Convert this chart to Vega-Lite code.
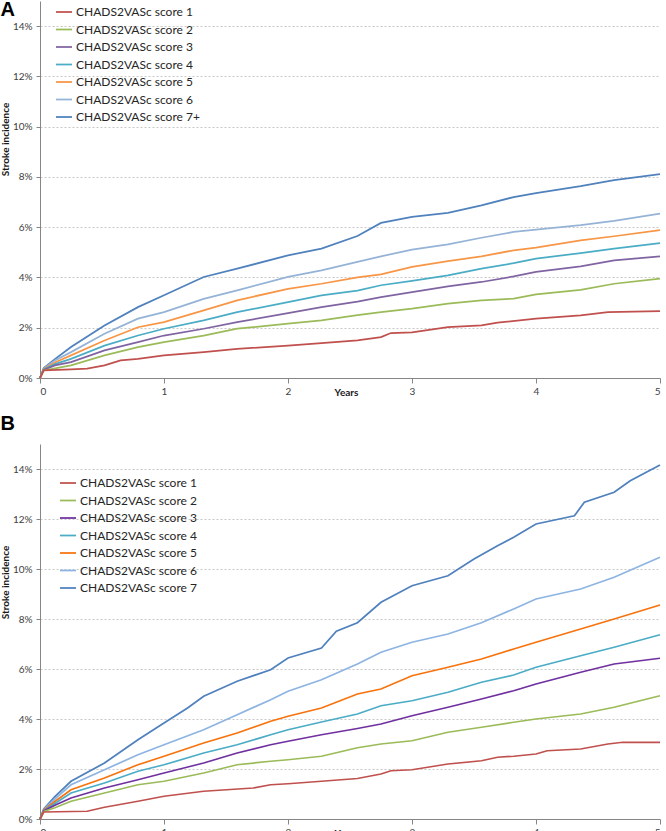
{
"$schema": "https://vega.github.io/schema/vega-lite/v6.json",
"background": "white",
"padding": {"left": 0, "top": 0, "right": 4, "bottom": 0},
"config": {
 "font": "Lato",
 "view": {"stroke": null},
 "axis": {"domainColor": "#868686", "tickColor": "#868686", "labelColor": "#404040", "labelFontSize": 10, "titleFontSize": 10, "titleFontWeight": "bold", "titleColor": "#1a1a1a", "gridColor": "#c8c8c8", "gridDash": [2, 2]},
 "legend": {"padding": 0, "labelFontSize": 12, "labelColor": "#262626", "symbolType": "stroke", "symbolSize": 256, "symbolStrokeWidth": 2, "rowPadding": 2.5, "labelOffset": 3},
 "line": {"strokeWidth": 1.75}
},
"data": {"values": [
{"p":"A","s":"CHADS2VASc score 7+","t":0,"v":0},{"p":"A","s":"CHADS2VASc score 7+","t":0.03,"v":0.4},{"p":"A","s":"CHADS2VASc score 7+","t":0.12,"v":0.75},{"p":"A","s":"CHADS2VASc score 7+","t":0.25,"v":1.23},{"p":"A","s":"CHADS2VASc score 7+","t":0.52,"v":2.09},{"p":"A","s":"CHADS2VASc score 7+","t":0.79,"v":2.82},{"p":"A","s":"CHADS2VASc score 7+","t":1.0,"v":3.29},{"p":"A","s":"CHADS2VASc score 7+","t":1.32,"v":4.02},{"p":"A","s":"CHADS2VASc score 7+","t":1.59,"v":4.35},{"p":"A","s":"CHADS2VASc score 7+","t":2.0,"v":4.88},{"p":"A","s":"CHADS2VASc score 7+","t":2.27,"v":5.15},{"p":"A","s":"CHADS2VASc score 7+","t":2.56,"v":5.65},{"p":"A","s":"CHADS2VASc score 7+","t":2.75,"v":6.17},{"p":"A","s":"CHADS2VASc score 7+","t":3.0,"v":6.41},{"p":"A","s":"CHADS2VASc score 7+","t":3.29,"v":6.57},{"p":"A","s":"CHADS2VASc score 7+","t":3.56,"v":6.87},{"p":"A","s":"CHADS2VASc score 7+","t":3.82,"v":7.2},{"p":"A","s":"CHADS2VASc score 7+","t":4.0,"v":7.36},{"p":"A","s":"CHADS2VASc score 7+","t":4.36,"v":7.63},{"p":"A","s":"CHADS2VASc score 7+","t":4.63,"v":7.87},{"p":"A","s":"CHADS2VASc score 7+","t":5.0,"v":8.11},
{"p":"A","s":"CHADS2VASc score 6","t":0,"v":0},{"p":"A","s":"CHADS2VASc score 6","t":0.03,"v":0.38},{"p":"A","s":"CHADS2VASc score 6","t":0.12,"v":0.7},{"p":"A","s":"CHADS2VASc score 6","t":0.25,"v":1.03},{"p":"A","s":"CHADS2VASc score 6","t":0.52,"v":1.76},{"p":"A","s":"CHADS2VASc score 6","t":0.79,"v":2.36},{"p":"A","s":"CHADS2VASc score 6","t":1.0,"v":2.62},{"p":"A","s":"CHADS2VASc score 6","t":1.32,"v":3.15},{"p":"A","s":"CHADS2VASc score 6","t":1.59,"v":3.49},{"p":"A","s":"CHADS2VASc score 6","t":2.0,"v":4.02},{"p":"A","s":"CHADS2VASc score 6","t":2.27,"v":4.28},{"p":"A","s":"CHADS2VASc score 6","t":2.56,"v":4.62},{"p":"A","s":"CHADS2VASc score 6","t":2.75,"v":4.84},{"p":"A","s":"CHADS2VASc score 6","t":3.0,"v":5.11},{"p":"A","s":"CHADS2VASc score 6","t":3.29,"v":5.32},{"p":"A","s":"CHADS2VASc score 6","t":3.56,"v":5.58},{"p":"A","s":"CHADS2VASc score 6","t":3.82,"v":5.81},{"p":"A","s":"CHADS2VASc score 6","t":4.0,"v":5.9},{"p":"A","s":"CHADS2VASc score 6","t":4.36,"v":6.08},{"p":"A","s":"CHADS2VASc score 6","t":4.63,"v":6.25},{"p":"A","s":"CHADS2VASc score 6","t":5.0,"v":6.54},
{"p":"A","s":"CHADS2VASc score 5","t":0,"v":0},{"p":"A","s":"CHADS2VASc score 5","t":0.03,"v":0.36},{"p":"A","s":"CHADS2VASc score 5","t":0.12,"v":0.62},{"p":"A","s":"CHADS2VASc score 5","t":0.25,"v":0.9},{"p":"A","s":"CHADS2VASc score 5","t":0.52,"v":1.49},{"p":"A","s":"CHADS2VASc score 5","t":0.79,"v":2.02},{"p":"A","s":"CHADS2VASc score 5","t":1.0,"v":2.22},{"p":"A","s":"CHADS2VASc score 5","t":1.32,"v":2.69},{"p":"A","s":"CHADS2VASc score 5","t":1.59,"v":3.09},{"p":"A","s":"CHADS2VASc score 5","t":2.0,"v":3.55},{"p":"A","s":"CHADS2VASc score 5","t":2.27,"v":3.75},{"p":"A","s":"CHADS2VASc score 5","t":2.56,"v":4.0},{"p":"A","s":"CHADS2VASc score 5","t":2.75,"v":4.12},{"p":"A","s":"CHADS2VASc score 5","t":3.0,"v":4.42},{"p":"A","s":"CHADS2VASc score 5","t":3.29,"v":4.65},{"p":"A","s":"CHADS2VASc score 5","t":3.56,"v":4.84},{"p":"A","s":"CHADS2VASc score 5","t":3.82,"v":5.08},{"p":"A","s":"CHADS2VASc score 5","t":4.0,"v":5.19},{"p":"A","s":"CHADS2VASc score 5","t":4.36,"v":5.48},{"p":"A","s":"CHADS2VASc score 5","t":4.63,"v":5.64},{"p":"A","s":"CHADS2VASc score 5","t":5.0,"v":5.88},
{"p":"A","s":"CHADS2VASc score 4","t":0,"v":0},{"p":"A","s":"CHADS2VASc score 4","t":0.03,"v":0.34},{"p":"A","s":"CHADS2VASc score 4","t":0.12,"v":0.55},{"p":"A","s":"CHADS2VASc score 4","t":0.25,"v":0.76},{"p":"A","s":"CHADS2VASc score 4","t":0.52,"v":1.29},{"p":"A","s":"CHADS2VASc score 4","t":0.79,"v":1.69},{"p":"A","s":"CHADS2VASc score 4","t":1.0,"v":1.96},{"p":"A","s":"CHADS2VASc score 4","t":1.32,"v":2.29},{"p":"A","s":"CHADS2VASc score 4","t":1.59,"v":2.62},{"p":"A","s":"CHADS2VASc score 4","t":2.0,"v":3.02},{"p":"A","s":"CHADS2VASc score 4","t":2.27,"v":3.29},{"p":"A","s":"CHADS2VASc score 4","t":2.56,"v":3.48},{"p":"A","s":"CHADS2VASc score 4","t":2.75,"v":3.69},{"p":"A","s":"CHADS2VASc score 4","t":3.0,"v":3.86},{"p":"A","s":"CHADS2VASc score 4","t":3.29,"v":4.08},{"p":"A","s":"CHADS2VASc score 4","t":3.56,"v":4.35},{"p":"A","s":"CHADS2VASc score 4","t":3.82,"v":4.57},{"p":"A","s":"CHADS2VASc score 4","t":4.0,"v":4.75},{"p":"A","s":"CHADS2VASc score 4","t":4.36,"v":4.97},{"p":"A","s":"CHADS2VASc score 4","t":4.63,"v":5.15},{"p":"A","s":"CHADS2VASc score 4","t":5.0,"v":5.37},
{"p":"A","s":"CHADS2VASc score 3","t":0,"v":0},{"p":"A","s":"CHADS2VASc score 3","t":0.03,"v":0.32},{"p":"A","s":"CHADS2VASc score 3","t":0.12,"v":0.5},{"p":"A","s":"CHADS2VASc score 3","t":0.25,"v":0.63},{"p":"A","s":"CHADS2VASc score 3","t":0.52,"v":1.1},{"p":"A","s":"CHADS2VASc score 3","t":0.79,"v":1.43},{"p":"A","s":"CHADS2VASc score 3","t":1.0,"v":1.69},{"p":"A","s":"CHADS2VASc score 3","t":1.32,"v":1.96},{"p":"A","s":"CHADS2VASc score 3","t":1.59,"v":2.22},{"p":"A","s":"CHADS2VASc score 3","t":2.0,"v":2.58},{"p":"A","s":"CHADS2VASc score 3","t":2.27,"v":2.82},{"p":"A","s":"CHADS2VASc score 3","t":2.56,"v":3.04},{"p":"A","s":"CHADS2VASc score 3","t":2.75,"v":3.22},{"p":"A","s":"CHADS2VASc score 3","t":3.0,"v":3.42},{"p":"A","s":"CHADS2VASc score 3","t":3.29,"v":3.65},{"p":"A","s":"CHADS2VASc score 3","t":3.56,"v":3.82},{"p":"A","s":"CHADS2VASc score 3","t":3.82,"v":4.04},{"p":"A","s":"CHADS2VASc score 3","t":4.0,"v":4.22},{"p":"A","s":"CHADS2VASc score 3","t":4.36,"v":4.44},{"p":"A","s":"CHADS2VASc score 3","t":4.63,"v":4.68},{"p":"A","s":"CHADS2VASc score 3","t":5.0,"v":4.84},
{"p":"A","s":"CHADS2VASc score 2","t":0,"v":0},{"p":"A","s":"CHADS2VASc score 2","t":0.03,"v":0.3},{"p":"A","s":"CHADS2VASc score 2","t":0.12,"v":0.38},{"p":"A","s":"CHADS2VASc score 2","t":0.25,"v":0.5},{"p":"A","s":"CHADS2VASc score 2","t":0.52,"v":0.9},{"p":"A","s":"CHADS2VASc score 2","t":0.79,"v":1.23},{"p":"A","s":"CHADS2VASc score 2","t":1.0,"v":1.43},{"p":"A","s":"CHADS2VASc score 2","t":1.32,"v":1.69},{"p":"A","s":"CHADS2VASc score 2","t":1.59,"v":1.96},{"p":"A","s":"CHADS2VASc score 2","t":2.0,"v":2.16},{"p":"A","s":"CHADS2VASc score 2","t":2.27,"v":2.29},{"p":"A","s":"CHADS2VASc score 2","t":2.56,"v":2.5},{"p":"A","s":"CHADS2VASc score 2","t":2.75,"v":2.62},{"p":"A","s":"CHADS2VASc score 2","t":3.0,"v":2.76},{"p":"A","s":"CHADS2VASc score 2","t":3.29,"v":2.96},{"p":"A","s":"CHADS2VASc score 2","t":3.56,"v":3.09},{"p":"A","s":"CHADS2VASc score 2","t":3.82,"v":3.16},{"p":"A","s":"CHADS2VASc score 2","t":4.0,"v":3.33},{"p":"A","s":"CHADS2VASc score 2","t":4.36,"v":3.51},{"p":"A","s":"CHADS2VASc score 2","t":4.63,"v":3.75},{"p":"A","s":"CHADS2VASc score 2","t":5.0,"v":3.95},
{"p":"A","s":"CHADS2VASc score 1","t":0,"v":0},{"p":"A","s":"CHADS2VASc score 1","t":0.03,"v":0.3},{"p":"A","s":"CHADS2VASc score 1","t":0.25,"v":0.34},{"p":"A","s":"CHADS2VASc score 1","t":0.38,"v":0.37},{"p":"A","s":"CHADS2VASc score 1","t":0.52,"v":0.5},{"p":"A","s":"CHADS2VASc score 1","t":0.65,"v":0.7},{"p":"A","s":"CHADS2VASc score 1","t":0.79,"v":0.76},{"p":"A","s":"CHADS2VASc score 1","t":1.0,"v":0.9},{"p":"A","s":"CHADS2VASc score 1","t":1.32,"v":1.03},{"p":"A","s":"CHADS2VASc score 1","t":1.59,"v":1.16},{"p":"A","s":"CHADS2VASc score 1","t":2.0,"v":1.29},{"p":"A","s":"CHADS2VASc score 1","t":2.27,"v":1.39},{"p":"A","s":"CHADS2VASc score 1","t":2.56,"v":1.5},{"p":"A","s":"CHADS2VASc score 1","t":2.75,"v":1.63},{"p":"A","s":"CHADS2VASc score 1","t":2.83,"v":1.79},{"p":"A","s":"CHADS2VASc score 1","t":3.0,"v":1.82},{"p":"A","s":"CHADS2VASc score 1","t":3.29,"v":2.02},{"p":"A","s":"CHADS2VASc score 1","t":3.56,"v":2.09},{"p":"A","s":"CHADS2VASc score 1","t":3.69,"v":2.2},{"p":"A","s":"CHADS2VASc score 1","t":4.0,"v":2.36},{"p":"A","s":"CHADS2VASc score 1","t":4.36,"v":2.49},{"p":"A","s":"CHADS2VASc score 1","t":4.58,"v":2.62},{"p":"A","s":"CHADS2VASc score 1","t":5.0,"v":2.66},
{"p":"B","s":"CHADS2VASc score 7","t":0,"v":0},{"p":"B","s":"CHADS2VASc score 7","t":0.03,"v":0.4},{"p":"B","s":"CHADS2VASc score 7","t":0.12,"v":0.9},{"p":"B","s":"CHADS2VASc score 7","t":0.25,"v":1.51},{"p":"B","s":"CHADS2VASc score 7","t":0.52,"v":2.24},{"p":"B","s":"CHADS2VASc score 7","t":0.79,"v":3.17},{"p":"B","s":"CHADS2VASc score 7","t":1.0,"v":3.84},{"p":"B","s":"CHADS2VASc score 7","t":1.19,"v":4.44},{"p":"B","s":"CHADS2VASc score 7","t":1.32,"v":4.91},{"p":"B","s":"CHADS2VASc score 7","t":1.59,"v":5.51},{"p":"B","s":"CHADS2VASc score 7","t":1.86,"v":5.97},{"p":"B","s":"CHADS2VASc score 7","t":2.0,"v":6.44},{"p":"B","s":"CHADS2VASc score 7","t":2.27,"v":6.84},{"p":"B","s":"CHADS2VASc score 7","t":2.39,"v":7.51},{"p":"B","s":"CHADS2VASc score 7","t":2.56,"v":7.85},{"p":"B","s":"CHADS2VASc score 7","t":2.75,"v":8.67},{"p":"B","s":"CHADS2VASc score 7","t":3.0,"v":9.33},{"p":"B","s":"CHADS2VASc score 7","t":3.29,"v":9.73},{"p":"B","s":"CHADS2VASc score 7","t":3.5,"v":10.4},{"p":"B","s":"CHADS2VASc score 7","t":3.69,"v":10.93},{"p":"B","s":"CHADS2VASc score 7","t":3.82,"v":11.27},{"p":"B","s":"CHADS2VASc score 7","t":4.0,"v":11.8},{"p":"B","s":"CHADS2VASc score 7","t":4.31,"v":12.13},{"p":"B","s":"CHADS2VASc score 7","t":4.39,"v":12.67},{"p":"B","s":"CHADS2VASc score 7","t":4.63,"v":13.07},{"p":"B","s":"CHADS2VASc score 7","t":4.76,"v":13.53},{"p":"B","s":"CHADS2VASc score 7","t":5.0,"v":14.16},
{"p":"B","s":"CHADS2VASc score 6","t":0,"v":0},{"p":"B","s":"CHADS2VASc score 6","t":0.03,"v":0.38},{"p":"B","s":"CHADS2VASc score 6","t":0.12,"v":0.8},{"p":"B","s":"CHADS2VASc score 6","t":0.25,"v":1.37},{"p":"B","s":"CHADS2VASc score 6","t":0.52,"v":1.97},{"p":"B","s":"CHADS2VASc score 6","t":0.79,"v":2.57},{"p":"B","s":"CHADS2VASc score 6","t":1.0,"v":2.97},{"p":"B","s":"CHADS2VASc score 6","t":1.32,"v":3.57},{"p":"B","s":"CHADS2VASc score 6","t":1.59,"v":4.17},{"p":"B","s":"CHADS2VASc score 6","t":1.86,"v":4.77},{"p":"B","s":"CHADS2VASc score 6","t":2.0,"v":5.11},{"p":"B","s":"CHADS2VASc score 6","t":2.27,"v":5.57},{"p":"B","s":"CHADS2VASc score 6","t":2.56,"v":6.2},{"p":"B","s":"CHADS2VASc score 6","t":2.75,"v":6.67},{"p":"B","s":"CHADS2VASc score 6","t":3.0,"v":7.07},{"p":"B","s":"CHADS2VASc score 6","t":3.29,"v":7.4},{"p":"B","s":"CHADS2VASc score 6","t":3.56,"v":7.85},{"p":"B","s":"CHADS2VASc score 6","t":3.82,"v":8.4},{"p":"B","s":"CHADS2VASc score 6","t":4.0,"v":8.8},{"p":"B","s":"CHADS2VASc score 6","t":4.36,"v":9.2},{"p":"B","s":"CHADS2VASc score 6","t":4.63,"v":9.67},{"p":"B","s":"CHADS2VASc score 6","t":5.0,"v":10.47},
{"p":"B","s":"CHADS2VASc score 5","t":0,"v":0},{"p":"B","s":"CHADS2VASc score 5","t":0.03,"v":0.36},{"p":"B","s":"CHADS2VASc score 5","t":0.12,"v":0.7},{"p":"B","s":"CHADS2VASc score 5","t":0.25,"v":1.17},{"p":"B","s":"CHADS2VASc score 5","t":0.52,"v":1.64},{"p":"B","s":"CHADS2VASc score 5","t":0.79,"v":2.17},{"p":"B","s":"CHADS2VASc score 5","t":1.0,"v":2.51},{"p":"B","s":"CHADS2VASc score 5","t":1.32,"v":3.04},{"p":"B","s":"CHADS2VASc score 5","t":1.59,"v":3.44},{"p":"B","s":"CHADS2VASc score 5","t":1.86,"v":3.91},{"p":"B","s":"CHADS2VASc score 5","t":2.0,"v":4.11},{"p":"B","s":"CHADS2VASc score 5","t":2.27,"v":4.44},{"p":"B","s":"CHADS2VASc score 5","t":2.56,"v":5.0},{"p":"B","s":"CHADS2VASc score 5","t":2.75,"v":5.2},{"p":"B","s":"CHADS2VASc score 5","t":3.0,"v":5.73},{"p":"B","s":"CHADS2VASc score 5","t":3.29,"v":6.07},{"p":"B","s":"CHADS2VASc score 5","t":3.56,"v":6.4},{"p":"B","s":"CHADS2VASc score 5","t":3.82,"v":6.8},{"p":"B","s":"CHADS2VASc score 5","t":4.0,"v":7.07},{"p":"B","s":"CHADS2VASc score 5","t":4.36,"v":7.6},{"p":"B","s":"CHADS2VASc score 5","t":4.63,"v":8.0},{"p":"B","s":"CHADS2VASc score 5","t":5.0,"v":8.56},
{"p":"B","s":"CHADS2VASc score 4","t":0,"v":0},{"p":"B","s":"CHADS2VASc score 4","t":0.03,"v":0.34},{"p":"B","s":"CHADS2VASc score 4","t":0.12,"v":0.62},{"p":"B","s":"CHADS2VASc score 4","t":0.25,"v":1.04},{"p":"B","s":"CHADS2VASc score 4","t":0.52,"v":1.44},{"p":"B","s":"CHADS2VASc score 4","t":0.79,"v":1.91},{"p":"B","s":"CHADS2VASc score 4","t":1.0,"v":2.17},{"p":"B","s":"CHADS2VASc score 4","t":1.32,"v":2.64},{"p":"B","s":"CHADS2VASc score 4","t":1.59,"v":2.97},{"p":"B","s":"CHADS2VASc score 4","t":1.86,"v":3.37},{"p":"B","s":"CHADS2VASc score 4","t":2.0,"v":3.57},{"p":"B","s":"CHADS2VASc score 4","t":2.27,"v":3.88},{"p":"B","s":"CHADS2VASc score 4","t":2.56,"v":4.2},{"p":"B","s":"CHADS2VASc score 4","t":2.75,"v":4.53},{"p":"B","s":"CHADS2VASc score 4","t":3.0,"v":4.73},{"p":"B","s":"CHADS2VASc score 4","t":3.29,"v":5.07},{"p":"B","s":"CHADS2VASc score 4","t":3.56,"v":5.47},{"p":"B","s":"CHADS2VASc score 4","t":3.82,"v":5.76},{"p":"B","s":"CHADS2VASc score 4","t":4.0,"v":6.07},{"p":"B","s":"CHADS2VASc score 4","t":4.36,"v":6.53},{"p":"B","s":"CHADS2VASc score 4","t":4.63,"v":6.87},{"p":"B","s":"CHADS2VASc score 4","t":5.0,"v":7.37},
{"p":"B","s":"CHADS2VASc score 3","t":0,"v":0},{"p":"B","s":"CHADS2VASc score 3","t":0.03,"v":0.32},{"p":"B","s":"CHADS2VASc score 3","t":0.12,"v":0.55},{"p":"B","s":"CHADS2VASc score 3","t":0.25,"v":0.84},{"p":"B","s":"CHADS2VASc score 3","t":0.52,"v":1.24},{"p":"B","s":"CHADS2VASc score 3","t":0.79,"v":1.57},{"p":"B","s":"CHADS2VASc score 3","t":1.0,"v":1.84},{"p":"B","s":"CHADS2VASc score 3","t":1.32,"v":2.24},{"p":"B","s":"CHADS2VASc score 3","t":1.59,"v":2.64},{"p":"B","s":"CHADS2VASc score 3","t":1.86,"v":2.97},{"p":"B","s":"CHADS2VASc score 3","t":2.0,"v":3.11},{"p":"B","s":"CHADS2VASc score 3","t":2.27,"v":3.37},{"p":"B","s":"CHADS2VASc score 3","t":2.56,"v":3.62},{"p":"B","s":"CHADS2VASc score 3","t":2.75,"v":3.8},{"p":"B","s":"CHADS2VASc score 3","t":3.0,"v":4.13},{"p":"B","s":"CHADS2VASc score 3","t":3.29,"v":4.47},{"p":"B","s":"CHADS2VASc score 3","t":3.56,"v":4.8},{"p":"B","s":"CHADS2VASc score 3","t":3.82,"v":5.13},{"p":"B","s":"CHADS2VASc score 3","t":4.0,"v":5.4},{"p":"B","s":"CHADS2VASc score 3","t":4.36,"v":5.87},{"p":"B","s":"CHADS2VASc score 3","t":4.63,"v":6.2},{"p":"B","s":"CHADS2VASc score 3","t":5.0,"v":6.43},
{"p":"B","s":"CHADS2VASc score 2","t":0,"v":0},{"p":"B","s":"CHADS2VASc score 2","t":0.03,"v":0.3},{"p":"B","s":"CHADS2VASc score 2","t":0.12,"v":0.45},{"p":"B","s":"CHADS2VASc score 2","t":0.25,"v":0.71},{"p":"B","s":"CHADS2VASc score 2","t":0.52,"v":1.04},{"p":"B","s":"CHADS2VASc score 2","t":0.79,"v":1.37},{"p":"B","s":"CHADS2VASc score 2","t":1.0,"v":1.51},{"p":"B","s":"CHADS2VASc score 2","t":1.32,"v":1.84},{"p":"B","s":"CHADS2VASc score 2","t":1.59,"v":2.17},{"p":"B","s":"CHADS2VASc score 2","t":1.86,"v":2.31},{"p":"B","s":"CHADS2VASc score 2","t":2.0,"v":2.37},{"p":"B","s":"CHADS2VASc score 2","t":2.27,"v":2.51},{"p":"B","s":"CHADS2VASc score 2","t":2.56,"v":2.85},{"p":"B","s":"CHADS2VASc score 2","t":2.75,"v":3.0},{"p":"B","s":"CHADS2VASc score 2","t":3.0,"v":3.13},{"p":"B","s":"CHADS2VASc score 2","t":3.29,"v":3.47},{"p":"B","s":"CHADS2VASc score 2","t":3.56,"v":3.67},{"p":"B","s":"CHADS2VASc score 2","t":3.82,"v":3.87},{"p":"B","s":"CHADS2VASc score 2","t":4.0,"v":4.0},{"p":"B","s":"CHADS2VASc score 2","t":4.36,"v":4.2},{"p":"B","s":"CHADS2VASc score 2","t":4.63,"v":4.47},{"p":"B","s":"CHADS2VASc score 2","t":5.0,"v":4.93},
{"p":"B","s":"CHADS2VASc score 1","t":0,"v":0},{"p":"B","s":"CHADS2VASc score 1","t":0.03,"v":0.28},{"p":"B","s":"CHADS2VASc score 1","t":0.38,"v":0.31},{"p":"B","s":"CHADS2VASc score 1","t":0.52,"v":0.47},{"p":"B","s":"CHADS2VASc score 1","t":0.79,"v":0.71},{"p":"B","s":"CHADS2VASc score 1","t":1.0,"v":0.91},{"p":"B","s":"CHADS2VASc score 1","t":1.32,"v":1.11},{"p":"B","s":"CHADS2VASc score 1","t":1.72,"v":1.24},{"p":"B","s":"CHADS2VASc score 1","t":1.86,"v":1.37},{"p":"B","s":"CHADS2VASc score 1","t":2.0,"v":1.41},{"p":"B","s":"CHADS2VASc score 1","t":2.27,"v":1.51},{"p":"B","s":"CHADS2VASc score 1","t":2.56,"v":1.62},{"p":"B","s":"CHADS2VASc score 1","t":2.75,"v":1.8},{"p":"B","s":"CHADS2VASc score 1","t":2.83,"v":1.93},{"p":"B","s":"CHADS2VASc score 1","t":3.0,"v":1.97},{"p":"B","s":"CHADS2VASc score 1","t":3.29,"v":2.2},{"p":"B","s":"CHADS2VASc score 1","t":3.56,"v":2.33},{"p":"B","s":"CHADS2VASc score 1","t":3.69,"v":2.47},{"p":"B","s":"CHADS2VASc score 1","t":3.82,"v":2.51},{"p":"B","s":"CHADS2VASc score 1","t":4.0,"v":2.6},{"p":"B","s":"CHADS2VASc score 1","t":4.09,"v":2.73},{"p":"B","s":"CHADS2VASc score 1","t":4.36,"v":2.8},{"p":"B","s":"CHADS2VASc score 1","t":4.58,"v":3.0},{"p":"B","s":"CHADS2VASc score 1","t":4.7,"v":3.07},{"p":"B","s":"CHADS2VASc score 1","t":5.0,"v":3.07}
]},
"spacing": 17,
"bounds": "full",
"resolve": {"scale": {"color": "independent"}, "legend": {"color": "independent"}},
"vconcat": [
 {
  "title": {"text": "A", "anchor": "start", "frame": "bounds", "baseline": "top", "offset": -19, "fontSize": 20, "font": "Liberation Sans", "fontWeight": "bold", "color": "black"},
  "width": 620, "height": 377,
  "transform": [{"filter": "datum.p === 'A'"}],
  "mark": {"type": "line", "strokeWidth": 1.75},
  "encoding": {
   "x": {"field": "t", "type": "quantitative", "scale": {"domain": [0, 5], "nice": false},
         "axis": {"values": [0, 1, 2, 3, 4, 5], "format": "d", "grid": false, "tickSize": 5, "labelPadding": 3, "title": "Years", "titleX": 306, "titleY": 14, "titleBaseline": "middle"}},
   "y": {"field": "v", "type": "quantitative", "scale": {"domain": [0, 15], "nice": false},
         "axis": {"values": [0, 2, 4, 6, 8, 10, 12, 14], "labelExpr": "datum.value + '%'", "grid": true, "tickSize": 4, "labelPadding": 4, "title": "Stroke incidence", "titleY": 138, "titlePadding": 2}},
   "color": {"field": "s", "type": "nominal",
             "scale": {"domain": ["CHADS2VASc score 1", "CHADS2VASc score 2", "CHADS2VASc score 3", "CHADS2VASc score 4", "CHADS2VASc score 5", "CHADS2VASc score 6", "CHADS2VASc score 7+"],
                       "range": ["#C0504D", "#9BBB59", "#8064A2", "#4BACC6", "#F79646", "#95B3D7", "#4F81BD"]},
             "legend": {"orient": "none", "legendX": 15, "legendY": 2, "title": null}}
  }
 },
 {
  "title": {"text": "B", "anchor": "start", "frame": "bounds", "baseline": "top", "offset": 10, "fontSize": 20, "font": "Liberation Sans", "fontWeight": "bold", "color": "black"},
  "width": 620, "height": 375,
  "transform": [{"filter": "datum.p === 'B'"}],
  "mark": {"type": "line", "strokeWidth": 1.75},
  "encoding": {
   "x": {"field": "t", "type": "quantitative", "scale": {"domain": [0, 5], "nice": false},
         "axis": {"values": [0, 1, 2, 3, 4, 5], "format": "d", "grid": false, "tickSize": 5, "labelPadding": 3, "title": "Years", "titleX": 306, "titleY": 14, "titleBaseline": "middle"}},
   "y": {"field": "v", "type": "quantitative", "scale": {"domain": [0, 15], "nice": false},
         "axis": {"values": [0, 2, 4, 6, 8, 10, 12, 14], "labelExpr": "datum.value + '%'", "grid": true, "tickSize": 4, "labelPadding": 4, "title": "Stroke incidence", "titleY": 138, "titlePadding": 2}},
   "color": {"field": "s", "type": "nominal",
             "scale": {"domain": ["CHADS2VASc score 1", "CHADS2VASc score 2", "CHADS2VASc score 3", "CHADS2VASc score 4", "CHADS2VASc score 5", "CHADS2VASc score 6", "CHADS2VASc score 7"],
                       "range": ["#C0504D", "#9BBB59", "#7030A0", "#4BACC6", "#F7730E", "#8DB4E2", "#4F81BD"]},
             "legend": {"orient": "none", "legendX": 19, "legendY": 30, "title": null}}
  }
 }
]
}
